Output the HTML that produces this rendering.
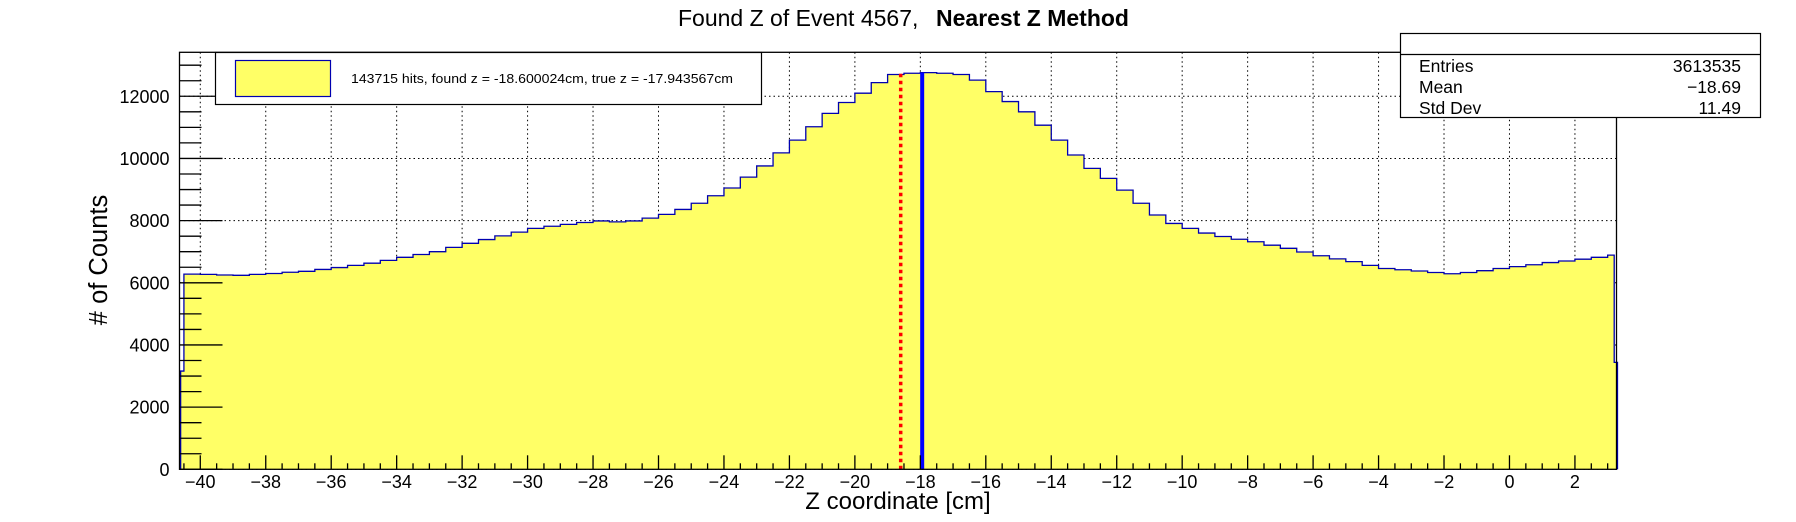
<!DOCTYPE html>
<html><head><meta charset="utf-8"><style>
html,body{margin:0;padding:0;background:#fff;}
svg{display:block;}
text{font-family:"Liberation Sans",Arial,sans-serif;fill:#000;}
</style></head><body>
<svg id="chart" width="1796" height="522" viewBox="0 0 1796 522" xmlns="http://www.w3.org/2000/svg">
<rect x="0" y="0" width="1796" height="522" fill="#fff"/>
<text x="678" y="26" font-size="23">Found Z of Event 4567,<tspan x="936" font-weight="bold">Nearest Z Method</tspan></text>
<g id="grid"></g>
<g id="hist"></g>
<g id="markers"></g>
<g id="axes"></g>
<text transform="translate(107,260) rotate(-90)" text-anchor="middle" font-size="25.5">#  of Counts</text>
<text x="898" y="509" text-anchor="middle" font-size="24">Z coordinate [cm]</text>
<g>
<rect x="215.5" y="52.5" width="546" height="52" fill="#fff" stroke="#000" stroke-width="1.2"/>
<rect x="235.5" y="60.5" width="95" height="36" fill="#ffff66" stroke="#0000b0" stroke-width="1.2"/>
<text x="351" y="83" font-size="13" textLength="382" lengthAdjust="spacingAndGlyphs">143715 hits, found z = -18.600024cm, true z = -17.943567cm</text>
</g>
<g>
<rect x="1400.5" y="33.5" width="360" height="84" fill="#fff" stroke="#000" stroke-width="1.2"/>
<line x1="1400.5" y1="54.5" x2="1760.5" y2="54.5" stroke="#000" stroke-width="1.2"/>
<text x="1419" y="72" font-size="17.5">Entries</text>
<text x="1741" y="72" font-size="17.5" text-anchor="end">3613535</text>
<text x="1419" y="93" font-size="17.5">Mean</text>
<text x="1741" y="93" font-size="17.5" text-anchor="end">−18.69</text>
<text x="1419" y="114" font-size="17.5">Std Dev</text>
<text x="1741" y="114" font-size="17.5" text-anchor="end">11.49</text>
</g>
</svg>
<script>
const binLowEdges = [-40.6,-40.5,-40,-39.5,-39,-38.5,-38,-37.5,-37,-36.5,-36,-35.5,-35,-34.5,-34,-33.5,-33,-32.5,-32,-31.5,-31,-30.5,-30,-29.5,-29,-28.5,-28,-27.5,-27,-26.5,-26,-25.5,-25,-24.5,-24,-23.5,-23,-22.5,-22,-21.5,-21,-20.5,-20,-19.5,-19,-18.5,-18,-17.5,-17,-16.5,-16,-15.5,-15,-14.5,-14,-13.5,-13,-12.5,-12,-11.5,-11,-10.5,-10,-9.5,-9,-8.5,-8,-7.5,-7,-6.5,-6,-5.5,-5,-4.5,-4,-3.5,-3,-2.5,-2,-1.5,-1,-0.5,0,0.5,1,1.5,2,2.5,3,3.2];
const binCounts = [3160,6280,6270,6250,6240,6270,6300,6340,6370,6430,6490,6560,6630,6720,6820,6910,7000,7140,7270,7390,7510,7630,7750,7820,7880,7940,7990,7960,7990,8080,8200,8360,8560,8800,9050,9400,9760,10180,10590,11020,11450,11800,12100,12440,12700,12740,12760,12740,12700,12520,12150,11830,11500,11070,10590,10110,9680,9360,8980,8560,8180,7910,7750,7600,7490,7400,7320,7210,7110,6990,6870,6770,6680,6560,6460,6420,6380,6330,6290,6330,6390,6460,6520,6580,6650,6700,6760,6820,6890,3440];
const lastBinHighEdge = 3.3;
const xRange = [-40.635, 3.27];
const yRange = [0, 13415];
const xTickValues = [-40,-38,-36,-34,-32,-30,-28,-26,-24,-22,-20,-18,-16,-14,-12,-10,-8,-6,-4,-2,0,2];
const yTickValues = [0,2000,4000,6000,8000,10000,12000];
const foundZ = -18.600024;
const trueZ = -17.943567;

const NS = "http://www.w3.org/2000/svg";
const L = 179.5, R = 1616.5, T = 52.3, B = 469.3;
function xs(v){ return L + (v - xRange[0]) / (xRange[1] - xRange[0]) * (R - L); }
function ys(v){ return B - (v - yRange[0]) / (yRange[1] - yRange[0]) * (B - T); }
function mk(tag, attrs, parent){
  const e = document.createElementNS(NS, tag);
  for (const k in attrs) e.setAttribute(k, attrs[k]);
  parent.appendChild(e);
  return e;
}
const grid = document.getElementById('grid');
const hist = document.getElementById('hist');
const markers = document.getElementById('markers');
const axes = document.getElementById('axes');

xTickValues.forEach(v => {
  const g = mk('line', {x1: xs(v), x2: xs(v), y1: T, y2: B, stroke: '#000', 'stroke-width': 1, 'stroke-dasharray': '1.5,3'}, grid);
  
  
});
yTickValues.forEach(v => {
  const g = mk('line', {x1: L, x2: R, y1: ys(v), y2: ys(v), stroke: '#000', 'stroke-width': 1, 'stroke-dasharray': '1.5,3'}, grid);
  
  
});

let d = 'M' + xs(binLowEdges[0]) + ',' + ys(0);
let outline = '';
for (let i = 0; i < binCounts.length; i++) {
  const x0 = xs(binLowEdges[i]);
  const x1 = xs(i + 1 < binLowEdges.length ? binLowEdges[i + 1] : lastBinHighEdge);
  const y = ys(binCounts[i]);
  d += ' L' + x0 + ',' + y + ' L' + x1 + ',' + y;
  outline += (i === 0 ? 'M' + x0 + ',' + ys(0) + ' L' : ' L') + x0 + ',' + y + ' L' + x1 + ',' + y;
}
const lastX = xs(lastBinHighEdge);
d += ' L' + lastX + ',' + ys(0) + ' Z';
outline += ' L' + lastX + ',' + ys(0);
const fill = mk('path', {d: d, fill: '#ffff66', stroke: 'none'}, hist);


const line = mk('path', {d: outline, fill: 'none', stroke: '#0000b0', 'stroke-width': 1.3}, hist);



const peak = Math.max.apply(null, binCounts);
const fz = mk('line', {x1: xs(foundZ), x2: xs(foundZ), y1: ys(0), y2: ys(peak), stroke: '#ff0000', 'stroke-width': 3.5, 'stroke-dasharray': '3.5,3.5'}, markers);


const tz = mk('line', {x1: xs(trueZ), x2: xs(trueZ), y1: ys(0), y2: ys(peak), stroke: '#0000ff', 'stroke-width': 4}, markers);



const frame = mk('rect', {x: L, y: T, width: R - L, height: B - T, fill: 'none', stroke: '#000', 'stroke-width': 1.3}, axes);



for (let v = yRange[0]; v <= yRange[1]; v += 500) {
  const major = v % 2000 === 0;
  const t = mk('line', {x1: L, x2: L + (major ? 43 : 22), y1: ys(v), y2: ys(v), stroke: '#000', 'stroke-width': 1.3}, axes);
  
  
}
yTickValues.forEach(v => {
  const t = mk('text', {x: 169.5, y: ys(v) + 6.5, 'text-anchor': 'end', 'font-size': 18}, axes);
  t.textContent = String(v);
  
  
});
for (let v = -40.5; v <= xRange[1]; v += 0.5) {
  const major = Math.abs(v % 2) < 1e-9;
  const t = mk('line', {x1: xs(v), x2: xs(v), y1: B, y2: B - (major ? 14 : 6), stroke: '#000', 'stroke-width': 1.3}, axes);
  
  
}
xTickValues.forEach(v => {
  const t = mk('text', {x: xs(v), y: 488, 'text-anchor': 'middle', 'font-size': 18}, axes);
  t.textContent = v < 0 ? '\u2212' + Math.abs(v) : String(v);
  
  
});
</script>
</body></html>
